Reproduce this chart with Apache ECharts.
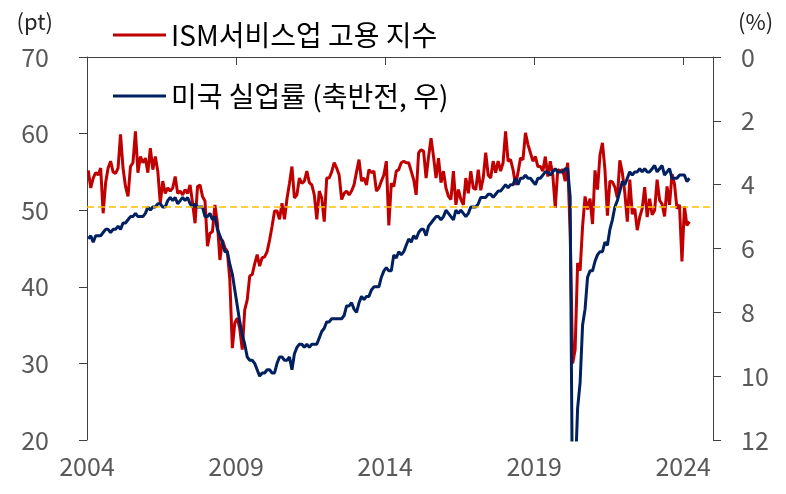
<!DOCTYPE html>
<html><head><meta charset="utf-8">
<script src="https://cdn.jsdelivr.net/npm/echarts@6/dist/echarts.min.js"></script>
<style>html,body{margin:0;padding:0;background:#fff}#c{width:786px;height:494px}</style>
</head><body><div id="c"></div>
<script>
// ---- data (monthly, Jan 2004 .. Mar 2024) ----
const startYear = 2004;
const seriesNames = ['ISM서비스업 고용 지수', '미국 실업률 (축반전, 우)'];
const xTickYears = [2004, 2009, 2014, 2019, 2024];
const leftTicks = [20, 30, 40, 50, 60, 70];
const rightTicks = [0, 2, 4, 6, 8, 10, 12];
const refLevel = 50.5;

const ismEmployment = [
  55.2, 52.9, 54.2, 54.9, 54.6, 55.5, 49.6, 53.6, 55.5, 56.4, 55.0, 54.8, // 2004
  55.5, 59.9, 55.5, 53.1, 51.8, 55.7, 56.2, 60.3, 54.9, 57.0, 56.2, 56.8, // 2005
  54.9, 58.1, 55.3, 57.0, 55.1, 50.9, 53.8, 52.2, 52.9, 52.5, 52.9, 54.4, // 2006
  52.2, 52.5, 52.0, 52.7, 52.2, 53.3, 50.9, 48.3, 53.1, 53.3, 51.8, 51.2, // 2007
  45.3, 47.0, 47.2, 50.7, 48.3, 43.5, 46.1, 45.1, 44.6, 40.9, 32.0, 35.3, // 2008
  35.9, 34.5, 31.8, 37.0, 38.3, 41.4, 41.6, 43.0, 44.2, 42.7, 43.8, 43.9, // 2009
  44.6, 46.1, 47.9, 49.9, 49.9, 48.8, 50.9, 48.8, 51.5, 53.5, 55.7, 51.6, // 2010
  52.0, 54.2, 53.5, 53.8, 55.1, 53.6, 53.3, 52.0, 48.8, 52.5, 51.6, 48.5, // 2011
  54.2, 54.2, 55.0, 56.2, 55.5, 54.6, 51.4, 52.2, 52.5, 52.0, 52.5, 53.3, // 2012
  55.0, 56.6, 53.8, 54.2, 53.3, 55.3, 54.9, 55.1, 52.5, 52.9, 53.8, 54.6, // 2013
  56.4, 48.0, 53.5, 53.1, 55.1, 55.3, 56.2, 56.4, 56.2, 56.2, 55.1, 54.0, // 2014
  52.0, 57.5, 57.9, 57.7, 54.2, 57.0, 59.4, 57.0, 54.2, 56.8, 53.6, 55.1, // 2015
  52.9, 51.8, 51.4, 55.1, 50.7, 52.7, 51.4, 50.7, 54.2, 52.2, 55.1, 52.9, // 2016
  52.7, 55.3, 52.6, 54.2, 57.5, 54.6, 54.2, 56.4, 54.9, 56.4, 55.1, 56.2, // 2017
  60.3, 56.4, 56.6, 55.3, 53.3, 54.9, 56.8, 56.6, 60.1, 58.6, 57.5, 56.4, // 2018
  57.0, 55.7, 55.7, 55.1, 57.0, 54.4, 56.4, 54.6, 50.3, 55.3, 55.1, 55.3, // 2019
  53.8, 56.2, 47.0, 30.0, 31.8, 43.1, 42.1, 47.9, 51.8, 50.1, 51.5, 48.2, // 2020
  55.2, 52.7, 57.2, 58.8, 55.3, 49.3, 53.8, 53.7, 53.0, 51.6, 56.5, 54.9, // 2021
  52.3, 48.5, 54.0, 49.5, 50.2, 47.4, 49.1, 50.2, 53.0, 49.1, 51.5, 49.4, // 2022
  50.0, 54.0, 51.3, 50.8, 49.2, 53.1, 50.7, 54.7, 53.4, 50.2, 50.7, 43.3, // 2023
  50.5, 48.0, 48.5                                                          // 2024
];

const unemploymentRate = [
  5.7, 5.6, 5.8, 5.6, 5.6, 5.6, 5.5, 5.4, 5.4, 5.5, 5.4, 5.4,
  5.3, 5.4, 5.2, 5.2, 5.1, 5.0, 5.0, 4.9, 5.0, 5.0, 5.0, 4.9,
  4.7, 4.8, 4.7, 4.7, 4.6, 4.6, 4.7, 4.7, 4.5, 4.4, 4.5, 4.4,
  4.6, 4.5, 4.4, 4.5, 4.4, 4.6, 4.7, 4.6, 4.7, 4.7, 4.7, 5.0,
  5.0, 4.9, 5.1, 5.0, 5.4, 5.6, 5.8, 6.1, 6.1, 6.5, 6.8, 7.3,
  7.8, 8.3, 8.7, 9.0, 9.4, 9.5, 9.5, 9.6, 9.8, 10.0, 9.9, 9.9,
  9.8, 9.8, 9.9, 9.9, 9.6, 9.4, 9.4, 9.5, 9.5, 9.4, 9.8, 9.3,
  9.1, 9.0, 9.0, 9.1, 9.0, 9.1, 9.0, 9.0, 9.0, 8.8, 8.6, 8.5,
  8.3, 8.3, 8.2, 8.2, 8.2, 8.2, 8.2, 8.1, 7.8, 7.8, 7.7, 7.9,
  8.0, 7.7, 7.5, 7.6, 7.5, 7.5, 7.3, 7.2, 7.2, 7.2, 6.9, 6.7,
  6.6, 6.7, 6.7, 6.2, 6.3, 6.1, 6.2, 6.1, 5.9, 5.7, 5.8, 5.6,
  5.7, 5.5, 5.4, 5.4, 5.6, 5.3, 5.2, 5.1, 5.0, 5.0, 5.1, 5.0,
  4.8, 4.9, 5.0, 5.1, 4.8, 4.9, 4.8, 4.9, 5.0, 4.9, 4.7, 4.7,
  4.7, 4.6, 4.4, 4.4, 4.4, 4.3, 4.3, 4.4, 4.3, 4.2, 4.2, 4.1,
  4.0, 4.1, 4.0, 4.0, 3.8, 4.0, 3.8, 3.8, 3.7, 3.8, 3.8, 3.9,
  4.0, 3.8, 3.8, 3.7, 3.6, 3.6, 3.7, 3.6, 3.5, 3.6, 3.6, 3.6,
  3.5, 3.5, 4.4, 14.8, 13.2, 11.0, 10.2, 8.4, 7.9, 6.9, 6.7, 6.7,
  6.4, 6.2, 6.1, 6.1, 5.8, 5.9, 5.4, 5.1, 4.7, 4.5, 4.2, 3.9,
  4.0, 3.8, 3.6, 3.7, 3.6, 3.6, 3.5, 3.6, 3.5, 3.6, 3.6, 3.5,
  3.4, 3.6, 3.5, 3.4, 3.7, 3.6, 3.5, 3.8, 3.8, 3.8, 3.7, 3.7,
  3.7, 3.9, 3.8
];

// month index -> fractional year (mid-month)
const monthPos = i => startYear + (i + 0.5) / 12;
const redData = ismEmployment.map((v, i) => [monthPos(i), v]);
const navyData = unemploymentRate.map((v, i) => [monthPos(i), v]);

const FONT = 'Noto Sans CJK KR';
const axisColor = '#404040';
const labelColor = '#595959';

const chart = echarts.init(document.getElementById('c'), null, {renderer: 'canvas'});
chart.setOption({
  animation: false,
  backgroundColor: '#fff',
  grid: {left: 87, right: 73, top: 57, bottom: 54, containLabel: false},
  legend: [
    {data: [seriesNames[0]], left: 108, top: 16, orient: 'horizontal', icon: 'rect',
     itemWidth: 53, itemHeight: 3, selectedMode: false,
     textStyle: {fontFamily: FONT, fontSize: 28, color: '#000'}},
    {data: [seriesNames[1]], left: 108, top: 77, orient: 'horizontal', icon: 'rect',
     itemWidth: 53, itemHeight: 3, selectedMode: false,
     textStyle: {fontFamily: FONT, fontSize: 28, color: '#000'}}
  ],
  xAxis: {
    type: 'value', min: 2004, max: 2025, interval: 5,
    splitLine: {show: false},
    axisLine: {show: true, lineStyle: {color: axisColor, width: 1}},
    axisTick: {show: true, length: 8, inside: false, customValues: xTickYears, lineStyle: {color: axisColor}},
    axisLabel: {customValues: xTickYears, margin: 14, fontFamily: FONT, fontSize: 25, color: labelColor,
      formatter: v => String(Math.round(v))}
  },
  yAxis: [
    {type: 'value', min: 20, max: 70, interval: 10, position: 'left',
     name: '(pt)', nameLocation: 'end', nameGap: 24,
     nameTextStyle: {fontFamily: FONT, fontSize: 22, color: '#262626', align: 'right', padding: [0, 34, 0, 0]},
     splitLine: {show: false},
     axisLine: {show: true, lineStyle: {color: axisColor, width: 1}},
     axisTick: {show: true, length: 8, lineStyle: {color: axisColor}},
     axisLabel: {margin: 38, fontFamily: FONT, fontSize: 25, color: labelColor}},
    {type: 'value', min: 0, max: 12, interval: 2, position: 'right', inverse: true,
     name: '(%)', nameLocation: 'start', nameGap: 24,
     nameTextStyle: {fontFamily: FONT, fontSize: 22, color: '#262626', align: 'left', padding: [0, 0, 0, 25]},
     splitLine: {show: false},
     axisLine: {show: true, lineStyle: {color: axisColor, width: 1}},
     axisTick: {show: true, length: 8, lineStyle: {color: axisColor}},
     axisLabel: {margin: 28, fontFamily: FONT, fontSize: 25, color: labelColor}}
  ],
  series: [
    {name: seriesNames[0], type: 'line', yAxisIndex: 0, data: redData,
     showSymbol: false, symbol: 'none', clip: true,
     lineStyle: {color: '#C00000', width: 3}, itemStyle: {color: '#C00000'},
     markLine: {silent: true, symbol: 'none', label: {show: false},
       lineStyle: {color: '#FFC000', width: 1.5, type: [7, 4]},
       data: [{yAxis: refLevel}]},
     z: 2},
    {name: seriesNames[1], type: 'line', yAxisIndex: 1, data: navyData,
     showSymbol: false, symbol: 'none', clip: true,
     lineStyle: {color: '#002060', width: 3}, itemStyle: {color: '#002060'},
     z: 3}
  ]
});
</script></body></html>
